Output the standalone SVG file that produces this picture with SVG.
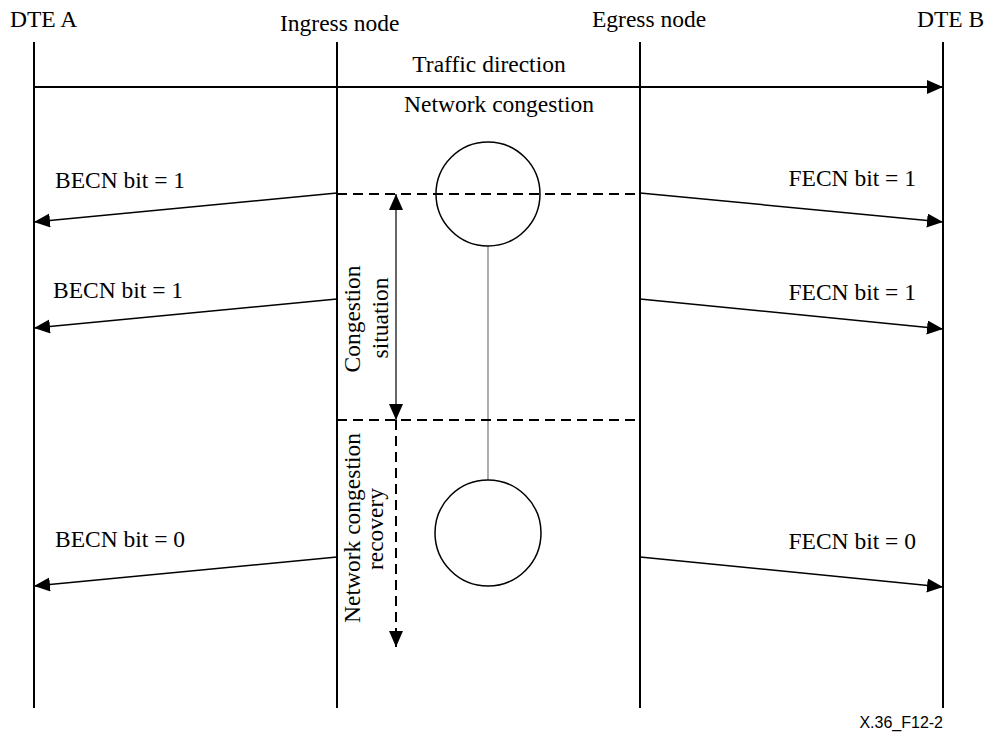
<svg xmlns="http://www.w3.org/2000/svg" width="988" height="740" viewBox="0 0 988 740">
<style>
text{font-family:"Liberation Serif","Times New Roman",serif;font-size:23.5px;fill:#000}
.life{stroke:#000;stroke-width:2;fill:none}
.arr{stroke:#000;stroke-width:1.5;fill:none}
.dash{stroke:#000;stroke-width:2;stroke-dasharray:10,6;fill:none}
.circ{stroke:#000;stroke-width:1.5;fill:#fff}
</style>
<defs>
<marker id="ah" markerUnits="userSpaceOnUse" markerWidth="18" markerHeight="16" refX="16" refY="7" orient="auto">
<path d="M0,0 L16,7 L0,14 z" fill="#000"/>
</marker>
<marker id="ahs" markerUnits="userSpaceOnUse" markerWidth="18" markerHeight="16" refX="0" refY="7" orient="auto">
<path d="M16,0 L0,7 L16,14 z" fill="#000"/>
</marker>
</defs>
<rect width="988" height="740" fill="#fff"/>
<g id="dte-a"><line class="life" x1="34" y1="42" x2="34" y2="708"/><text x="10" y="27">DTE A</text></g>
<g id="ingress"><line class="life" x1="337" y1="42" x2="337" y2="708"/><text x="280" y="31">Ingress node</text></g>
<g id="egress"><line class="life" x1="640" y1="42" x2="640" y2="708"/><text x="592" y="27">Egress node</text></g>
<g id="dte-b"><line class="life" x1="943" y1="42" x2="943" y2="708"/><text x="917" y="27">DTE B</text></g>
<g id="congestion">
<line x1="488" y1="246" x2="488" y2="481" stroke="#777" stroke-width="1.2"/>
<circle class="circ" cx="488" cy="194" r="52"/>
<circle class="circ" cx="488" cy="533" r="53"/>
<text x="499" y="112" text-anchor="middle">Network congestion</text>
</g>
<g id="connectors">
<line class="life" x1="34" y1="87" x2="943" y2="87" marker-end="url(#ah)"/>
<text x="489" y="72" text-anchor="middle">Traffic direction</text>
<line class="dash" x1="337" y1="194" x2="640" y2="194"/>
<line class="dash" x1="337" y1="420" x2="640" y2="420"/>
<line class="arr" x1="337" y1="193" x2="34" y2="222" marker-end="url(#ah)"/>
<line class="arr" x1="337" y1="299" x2="34" y2="328" marker-end="url(#ah)"/>
<line class="arr" x1="337" y1="557" x2="34" y2="586" marker-end="url(#ah)"/>
<line class="arr" x1="640" y1="193" x2="943" y2="222" marker-end="url(#ah)"/>
<line class="arr" x1="640" y1="299" x2="943" y2="329" marker-end="url(#ah)"/>
<line class="arr" x1="640" y1="557" x2="943" y2="587" marker-end="url(#ah)"/>
<line x1="396" y1="194" x2="396" y2="420" stroke="#000" stroke-width="1.2" marker-start="url(#ahs)" marker-end="url(#ah)"/>
<line class="dash" x1="396" y1="420" x2="396" y2="647" marker-end="url(#ah)"/>
</g>
<g id="labels">
<text x="55" y="188">BECN bit = 1</text>
<text x="53" y="298">BECN bit = 1</text>
<text x="55" y="547">BECN bit = 0</text>
<text x="916" y="186" text-anchor="end">FECN bit = 1</text>
<text x="916" y="300" text-anchor="end">FECN bit = 1</text>
<text x="916" y="549" text-anchor="end">FECN bit = 0</text>
<text transform="translate(360,319) rotate(-90)" text-anchor="middle">Congestion</text>
<text transform="translate(388,318) rotate(-90)" text-anchor="middle">situation</text>
<text transform="translate(360,528) rotate(-90)" text-anchor="middle">Network congestion</text>
<text transform="translate(383,529) rotate(-90)" text-anchor="middle">recovery</text>
<text x="943" y="728" text-anchor="end" style="font-family:'Liberation Sans',Arial,sans-serif;font-size:16px">X.36_F12-2</text>
</g>
</svg>
